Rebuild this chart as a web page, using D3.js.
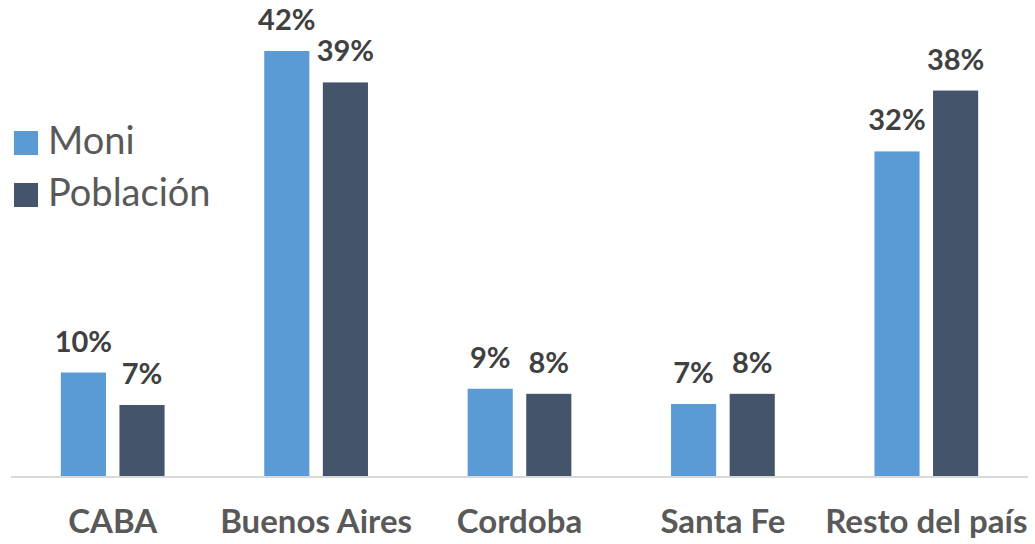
<!DOCTYPE html>
<html>
<head>
<meta charset="utf-8">
<script src="https://cdn.jsdelivr.net/npm/d3@7"></script>
<style>
  html, body { margin: 0; padding: 0; background: #fff; }
  svg { display: block; }
  text { font-family: Lato, "Open Sans", sans-serif; }
</style>
</head>
<body>
<svg id="chart" width="1035" height="544"></svg>
<script>
const categories = ["CABA", "Buenos Aires", "Cordoba", "Santa Fe", "Resto del país"];
const seriesNames = ["Moni", "Población"];
const moniValues = [10.3, 42.0, 8.7, 7.2, 32.1];
const poblacionValues = [7.1, 38.9, 8.2, 8.2, 38.1];
const moniLabels = ["10%", "42%", "9%", "7%", "32%"];
const poblacionLabels = ["7%", "39%", "8%", "8%", "38%"];
const colors = ["#5B9BD5", "#44546A"];

const svg = d3.select("#chart");
const baseY = 477;

const x0 = d3.scaleBand().domain(categories).range([11, 1028]).padding(0);
const x1 = d3.scaleBand().domain(seriesNames)
  .range([x0.bandwidth() * 0.245, x0.bandwidth() * 0.755]).paddingInner(0.23).paddingOuter(0);
const y = d3.scaleLinear().domain([0, 42]).range([baseY, 51]);

const rows = categories.map((c, i) => ({
  cat: c,
  vals: [
    { s: seriesNames[0], v: moniValues[i], lab: moniLabels[i] },
    { s: seriesNames[1], v: poblacionValues[i], lab: poblacionLabels[i] }
  ]
}));

const g = svg.append("g");
const groups = g.selectAll("g.cat").data(rows).join("g")
  .attr("class", "cat")
  .attr("transform", d => `translate(${x0(d.cat)},0)`);

groups.selectAll("rect").data(d => d.vals).join("rect")
  .attr("x", d => x1(d.s))
  .attr("width", x1.bandwidth())
  .attr("y", d => y(d.v))
  .attr("height", d => y(0) - y(d.v))
  .attr("fill", (d, i) => colors[i]);

groups.selectAll("text.val").data(d => d.vals).join("text")
  .attr("class", "val")
  .attr("x", d => x1(d.s) + x1.bandwidth() / 2)
  .attr("y", d => y(d.v) - 21)
  .attr("text-anchor", "middle")
  .attr("font-weight", "bold")
  .attr("font-size", 29)
  .attr("fill", "#404040")
  .text(d => d.lab);

// baseline axis
const xAxis = d3.axisBottom(x0).tickSize(0).tickPadding(0);
const axisG = svg.append("g").attr("transform", `translate(0,${baseY})`).call(xAxis);
axisG.select(".domain").attr("stroke", "#D9D9D9").attr("stroke-width", 2)
  .attr("d", `M11,0H1028`);
axisG.selectAll(".tick text")
  .attr("y", 56)
  .attr("dy", 0)
  .attr("font-family", "Lato, sans-serif")
  .attr("font-weight", "bold")
  .attr("font-size", 33)
  .attr("fill", "#595959");

// legend
const legend = svg.append("g");
const leg = legend.selectAll("g").data(seriesNames).join("g")
  .attr("transform", (d, i) => `translate(14,${131 + i * 52})`);
leg.append("rect").attr("width", 24).attr("height", 24).attr("fill", (d, i) => colors[i]);
leg.append("text")
  .attr("x", 34).attr("y", 23)
  .attr("font-size", 38)
  .attr("fill", "#595959")
  .text(d => d);
</script>
</body>
</html>
